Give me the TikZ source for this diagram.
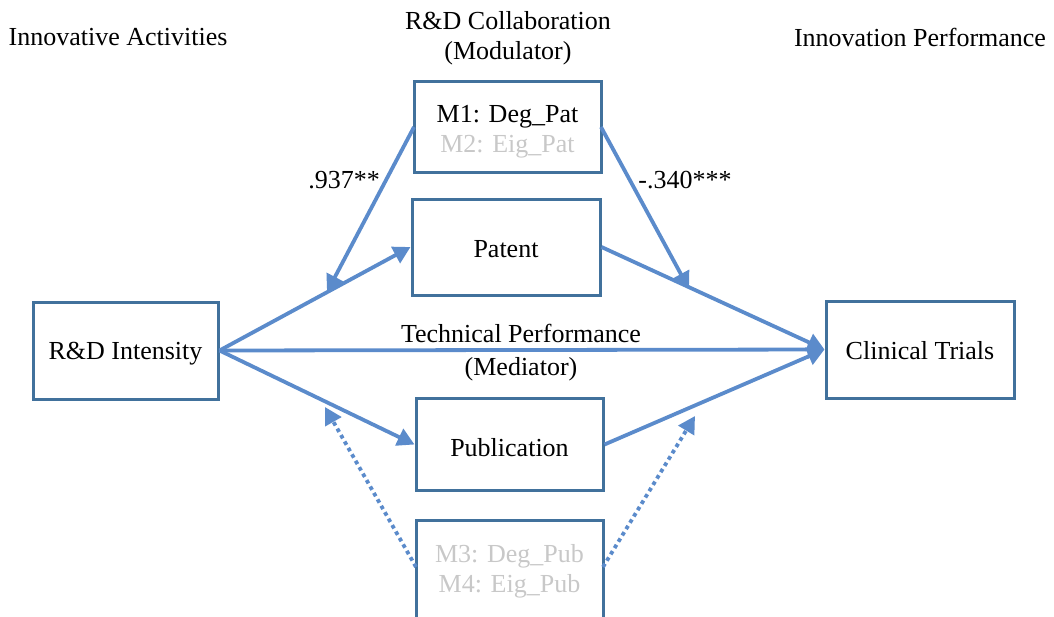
\documentclass[tikz,border=0pt]{standalone}
\usepackage{fontspec}
\setmainfont{Liberation Serif}
\usetikzlibrary{arrows.meta}
\definecolor{boxblue}{HTML}{41719C}
\definecolor{arrblue}{HTML}{5B8BCB}
\definecolor{lgray}{HTML}{C8C8C8}
\begin{document}
\begin{tikzpicture}[x=0.5pt,y=-0.5pt,
  font=\fontsize{13}{15}\selectfont,
  box/.style={draw=boxblue,line width=1.5pt,inner sep=0pt,align=center},
  arr/.style={draw=arrblue,line width=1.9pt,-{Triangle[length=8.5pt,width=9pt]}},
  dotarr/.style={arr,dash pattern=on 1.9pt off 1.8pt},
  lbl/.style={align=center,inner sep=0pt}]
\useasboundingbox (0,0) rectangle (1054,616);
% boxes
\node[box,minimum width=93.5pt,minimum height=45.5pt,label={[lbl,yshift=-2.5pt]center:M1: Deg\_Pat\\\textcolor{lgray}{M2: Eig\_Pat}}] (m1) at (507.5,126.5) {};
\node[box,minimum width=94pt,minimum height=48pt,label={[lbl,yshift=-1pt]center:Patent}] (pat) at (506,247) {};
\node[box,minimum width=92.5pt,minimum height=48.5pt,label={[lbl,yshift=-1.5pt]center:R\&D Intensity}] (rd) at (125.5,350.5) {};
\node[box,minimum width=94pt,minimum height=48.5pt,label={[lbl,yshift=-0.5pt]center:Clinical Trials}] (ct) at (920,349.5) {};
\node[box,minimum width=93.5pt,minimum height=46pt,label={[lbl,yshift=-1.5pt]center:Publication}] (pub) at (509.5,444.5) {};
\node[box,minimum width=93.5pt,minimum height=50pt,label={[lbl,yshift=-0.5pt]center:\textcolor{lgray}{M3: Deg\_Pub}\\\textcolor{lgray}{M4: Eig\_Pub}}] (m3) at (509.5,570) {};
% titles
\node[lbl] (t1) at (118,37) {Innovative Activities};
\node[lbl] (t2) at (508,38) {R\&D Collaboration\\(Modulator)};
\node[lbl] (t3) at (920,37) {Innovation Performance};
\node[lbl] (mid) at (521,352.5) {Technical Performance\\[1.5pt](Mediator)};
\node[lbl] (c1) at (344,180) {.937**};
\node[lbl] (c2) at (685,180) {-.340***};
% coordinates on paths
\coordinate (a1) at (327,292);
\coordinate (a2) at (689,289);
\coordinate (a3) at (325,407);
\coordinate (a4) at (695,416);
\coordinate (m1l) at (414,127);
\coordinate (m1r) at (601,127);
\coordinate (m3l) at (416,567);
\coordinate (m3r) at (603,567);
% arrows
\draw[arr] (rd.east) -- (pat.west);
\draw[arr] (rd.east) -- (pub.west);
\draw[arr] (rd.east) -- (ct.west);
\draw[arr] (pat.east) -- (ct.west);
\draw[arr] (pub.east) -- (ct.west);
\draw[arr] (m1l) -- (a1);
\draw[arr] (m1r) -- (a2);
\draw[dotarr] (m3l) -- (a3);
\draw[dotarr] (m3r) -- (a4);
\end{tikzpicture}
\end{document}
